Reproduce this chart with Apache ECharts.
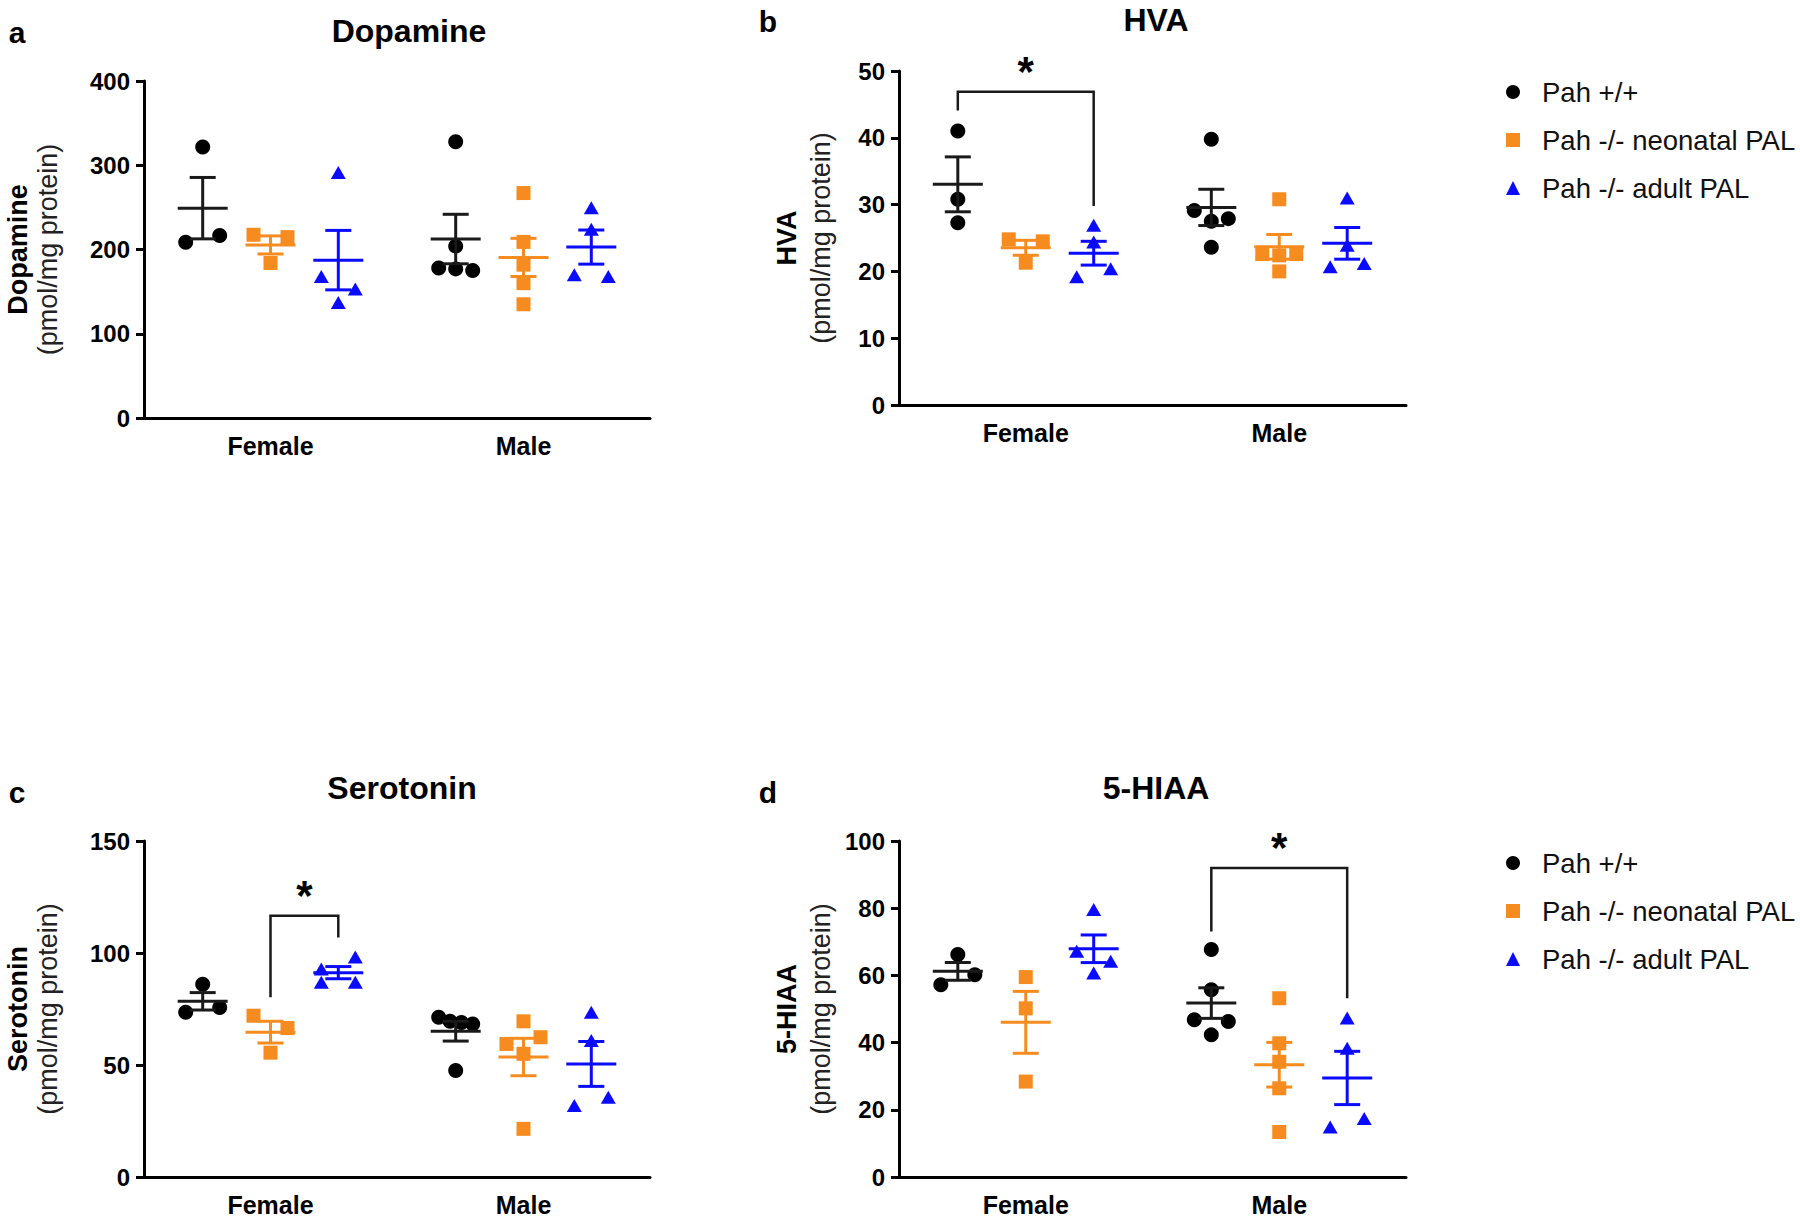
<!DOCTYPE html>
<html><head><meta charset="utf-8">
<script src="https://cdn.jsdelivr.net/npm/echarts@6/dist/echarts.min.js"></script>
<style>html,body{margin:0;padding:0;background:#fff}#c{width:1800px;height:1225px}</style>
</head><body><div id="c"></div>
<script>
// ---------------- DATA ----------------
const categories = ['Female', 'Male'];
const groupNames = ['Pah +/+', 'Pah -/- neonatal PAL', 'Pah -/- adult PAL'];

const dopamineFemaleWT    = [321.8, 208.7, 216.7];
const dopamineFemaleNeo   = [217.5, 214.7, 184.0];
const dopamineFemaleAdult = [291.5, 168.0, 153.0, 137.0];
const dopamineMaleWT      = [328, 204, 178, 177, 175];
const dopamineMaleNeo     = [267, 209, 182, 160, 135];
const dopamineMaleAdult   = [249.5, 224, 170, 168];

const hvaFemaleWT    = [41.0, 30.8, 27.3];
const hvaFemaleNeo   = [24.8, 24.5, 21.3];
const hvaFemaleAdult = [26.9, 24.4, 19.2, 20.4];
const hvaMaleWT      = [39.8, 29.1, 27.5, 27.9, 23.6];
const hvaMaleNeo     = [30.8, 22.6, 22.4, 22.6, 20.0];
const hvaMaleAdult   = [31.0, 23.9, 20.7, 21.2];

const serotoninFemaleWT    = [86.1, 73.5, 75.7];
const serotoninFemaleNeo   = [72.0, 66.5, 55.5];
const serotoninFemaleAdult = [92.9, 98.2, 86.9, 86.9];
const serotoninMaleWT      = [71.3, 69.5, 69.0, 68.3, 47.5];
const serotoninMaleNeo     = [69.5, 59.4, 62.4, 55.0, 21.5];
const serotoninMaleAdult   = [73.5, 60.9, 31.9, 35.6];

const hiaaFemaleWT    = [66.2, 57.2, 60.2];
const hiaaFemaleNeo   = [59.5, 50.2, 28.4];
const hiaaFemaleAdult = [79.6, 67.2, 64.2, 60.7];
const hiaaMaleWT      = [67.7, 55.7, 46.8, 46.3, 42.3];
const hiaaMaleNeo     = [53.2, 39.8, 34.3, 26.4, 13.4];
const hiaaMaleAdult   = [47.3, 38.3, 14.9, 17.4];

const dopamineTicks  = [0, 100, 200, 300, 400];
const hvaTicks       = [0, 10, 20, 30, 40, 50];
const serotoninTicks = [0, 50, 100, 150];
const hiaaTicks      = [0, 20, 40, 60, 80, 100];

// significance brackets: [category, fromGroup, toGroup, top, leftEnd, rightEnd] (data units)
const hvaBracket       = [0, 0, 2, 46.9, 44.1, 29.8];
const serotoninBracket = [0, 1, 2, 116.6, 80.2, 106.9];
const hiaaBracket      = [1, 0, 2, 92.0, 73.1, 53.2];

// ---------------- STYLE / LAYOUT ----------------
const FONT = 'Liberation Sans, Arial, Helvetica, sans-serif';
const colors = ['#000000', '#F68B1F', '#0A0AFF'];
const barColors = ['#1a1a1a', '#F68B1F', '#0A0AFF'];
const symbols = ['circle', 'rect', 'triangle'];
const symbolSizes = [15, 14, [15, 13]];
const GROUP_FRAC = 0.268;   // group dodge as fraction of category band
const SPREAD = 17;          // max horizontal spread of tied points (px)
const ROW_PX = 14.5;        // points closer than this (px) are spread side by side

const panels = [
  { letter: 'a', title: 'Dopamine', yName: 'Dopamine', ticks: dopamineTicks,
    data: [[dopamineFemaleWT, dopamineFemaleNeo, dopamineFemaleAdult], [dopamineMaleWT, dopamineMaleNeo, dopamineMaleAdult]],
    grid: { left: 144, top: 81, width: 506, height: 337 }, titleXY: [409, 31], letterXY: [17, 32], nameX: [18, 48], bracket: null },
  { letter: 'b', title: 'HVA', yName: 'HVA', ticks: hvaTicks,
    data: [[hvaFemaleWT, hvaFemaleNeo, hvaFemaleAdult], [hvaMaleWT, hvaMaleNeo, hvaMaleAdult]],
    grid: { left: 899, top: 71, width: 507, height: 334 }, titleXY: [1156, 20], letterXY: [768, 21], nameX: [787, 821], bracket: hvaBracket },
  { letter: 'c', title: 'Serotonin', yName: 'Serotonin', ticks: serotoninTicks,
    data: [[serotoninFemaleWT, serotoninFemaleNeo, serotoninFemaleAdult], [serotoninMaleWT, serotoninMaleNeo, serotoninMaleAdult]],
    grid: { left: 144, top: 841, width: 506, height: 336 }, titleXY: [402, 788], letterXY: [17, 792], nameX: [18, 48], bracket: serotoninBracket },
  { letter: 'd', title: '5-HIAA', yName: '5-HIAA', ticks: hiaaTicks,
    data: [[hiaaFemaleWT, hiaaFemaleNeo, hiaaFemaleAdult], [hiaaMaleWT, hiaaMaleNeo, hiaaMaleAdult]],
    grid: { left: 899, top: 841, width: 507, height: 336 }, titleXY: [1156, 788], letterXY: [768, 792], nameX: [787, 821], bracket: hiaaBracket }
];

function mean(a) { return a.reduce((s, v) => s + v, 0) / a.length; }
function sem(a) {
  const m = mean(a);
  const v = a.reduce((s, x) => s + (x - m) * (x - m), 0) / (a.length - 1);
  return Math.sqrt(v) / Math.sqrt(a.length);
}
function jitter(values, pxPerUnit) {
  const idx = values.map((v, i) => i).sort((a, b) => values[b] - values[a] || a - b);
  const rows = []; let cur = null;
  idx.forEach(i => {
    if (cur && (values[cur[0]] - values[i]) * pxPerUnit <= ROW_PX) cur.push(i);
    else { cur = [i]; rows.push(cur); }
  });
  const off = new Array(values.length).fill(0);
  rows.forEach(r => {
    r.sort((a, b) => a - b);
    const n = r.length;
    r.forEach((i, k) => { off[i] = n === 1 ? 0 : -SPREAD + 2 * SPREAD * k / (n - 1); });
  });
  return off;
}

const grids = [], xAxes = [], yAxes = [], series = [], graphics = [], titles = [];

panels.forEach((p, pi) => {
  const ticks = p.ticks;
  const yMax = ticks[ticks.length - 1];
  const interval = ticks[1] - ticks[0];
  const pxPerUnit = p.grid.height / yMax;
  const band = p.grid.width / categories.length;
  const gdx = band * GROUP_FRAC;

  grids.push(Object.assign({ containLabel: false }, p.grid));
  xAxes.push({
    type: 'category', gridIndex: pi, data: categories,
    axisLine: { lineStyle: { color: '#000', width: 3 } },
    axisTick: { alignWithLabel: true, length: 8, lineStyle: { color: '#000', width: 3 } },
    axisLabel: { color: '#000', fontFamily: FONT, fontWeight: 'bold', fontSize: 25, margin: 15 },
    splitLine: { show: false }
  });
  yAxes.push({
    type: 'value', gridIndex: pi, min: ticks[0], max: yMax, interval: interval,
    axisLine: { show: true, lineStyle: { color: '#000', width: 3 } },
    axisTick: { show: true, length: 8, lineStyle: { color: '#000', width: 3 } },
    axisLabel: { color: '#000', fontFamily: FONT, fontWeight: 'bold', fontSize: 24, margin: 14 },
    splitLine: { show: false }
  });

  // scatter points
  for (let g = 0; g < 3; g++) {
    const items = [];
    for (let c = 0; c < categories.length; c++) {
      const vals = p.data[c][g];
      const off = jitter(vals, pxPerUnit);
      vals.forEach((v, i) => {
        items.push({ value: [c, v], symbolOffset: [(g - 1) * gdx + off[i], 0] });
      });
    }
    series.push({
      name: groupNames[g], type: 'scatter', xAxisIndex: pi, yAxisIndex: pi,
      symbol: symbols[g], symbolSize: symbolSizes[g],
      itemStyle: { color: colors[g], opacity: 1 },
      data: items, z: 3, silent: true
    });
  }

  // mean +/- SEM
  const stats = [];
  for (let c = 0; c < categories.length; c++)
    for (let g = 0; g < 3; g++)
      stats.push([c, mean(p.data[c][g]), sem(p.data[c][g]), g]);
  series.push({
    name: 'Mean ± SEM', type: 'custom', xAxisIndex: pi, yAxisIndex: pi, z: 5, silent: true,
    data: stats,
    renderItem: function (params, api) {
      const c = api.value(0), m = api.value(1), s = api.value(2), g = api.value(3);
      const bw = api.size([1, 0])[0];
      const pt = api.coord([c, m]);
      const x = pt[0] + (g - 1) * bw * GROUP_FRAC;
      const yT = api.coord([c, m + s])[1];
      const yB = api.coord([c, m - s])[1];
      const st = { stroke: barColors[g], lineWidth: 3, fill: null };
      return { type: 'group', children: [
        { type: 'line', shape: { x1: x - 25, y1: pt[1], x2: x + 25, y2: pt[1] }, style: st },
        { type: 'line', shape: { x1: x, y1: yT, x2: x, y2: yB }, style: st },
        { type: 'line', shape: { x1: x - 13, y1: yT, x2: x + 13, y2: yT }, style: st },
        { type: 'line', shape: { x1: x - 13, y1: yB, x2: x + 13, y2: yB }, style: st }
      ]};
    }
  });

  // significance bracket
  if (p.bracket) {
    series.push({
      name: 'significance', type: 'custom', xAxisIndex: pi, yAxisIndex: pi, z: 6, silent: true,
      data: [p.bracket],
      renderItem: function (params, api) {
        const c = api.value(0), g1 = api.value(1), g2 = api.value(2);
        const bw = api.size([1, 0])[0];
        const cx = api.coord([c, 0])[0];
        const x1 = cx + (g1 - 1) * bw * GROUP_FRAC;
        const x2 = cx + (g2 - 1) * bw * GROUP_FRAC;
        const yTop = api.coord([c, api.value(3)])[1];
        const yL = api.coord([c, api.value(4)])[1];
        const yR = api.coord([c, api.value(5)])[1];
        return { type: 'group', children: [
          { type: 'polyline', shape: { points: [[x1, yL], [x1, yTop], [x2, yTop], [x2, yR]] },
            style: { stroke: '#1a1a1a', lineWidth: 2.5, fill: null } },
          { type: 'text', x: (x1 + x2) / 2, y: yTop - 20,
            style: { text: '*', font: 'bold 42px ' + FONT, fill: '#000', align: 'center', verticalAlign: 'middle',
                     textAlign: 'center', textVerticalAlign: 'middle' } }
        ]};
      }
    });
  }

  titles.push({ text: p.title, left: p.titleXY[0], top: p.titleXY[1] - 16, textAlign: 'center', padding: 0,
    textStyle: { fontFamily: FONT, fontWeight: 'bold', fontSize: 32, color: '#000' } });

  const yMid = p.grid.top + p.grid.height / 2;
  graphics.push({ type: 'text', x: p.letterXY[0], y: p.letterXY[1],
    style: { text: p.letter, font: 'bold 30px ' + FONT, fill: '#000', align: 'center', verticalAlign: 'middle', textAlign: 'center', textVerticalAlign: 'middle' } });
  graphics.push({ type: 'text', x: p.nameX[0], y: yMid, rotation: Math.PI / 2,
    style: { text: p.yName, font: 'bold 27px ' + FONT, fill: '#000', align: 'center', verticalAlign: 'middle', textAlign: 'center', textVerticalAlign: 'middle' } });
  graphics.push({ type: 'text', x: p.nameX[1], y: yMid, rotation: Math.PI / 2,
    style: { text: '(pmol/mg protein)', font: '27px ' + FONT, fill: '#222', align: 'center', verticalAlign: 'middle', textAlign: 'center', textVerticalAlign: 'middle' } });
});

const legendData = groupNames.map((n, i) => ({ name: n, icon: symbols[i] }));
function legendAt(top) {
  return {
    orient: 'vertical', left: 1501, top: top, itemWidth: 14, itemHeight: 14, itemGap: 20,
    data: legendData, selectedMode: false,
    textStyle: { fontFamily: FONT, fontSize: 27.5, color: '#111', padding: [0, 0, 0, 17] }
  };
}

const chart = echarts.init(document.getElementById('c'), null, { renderer: 'svg', width: 1800, height: 1225 });
chart.setOption({
  backgroundColor: '#fff',
  animation: false,
  title: titles,
  legend: [legendAt(73), legendAt(844)],
  grid: grids,
  xAxis: xAxes,
  yAxis: yAxes,
  series: series,
  graphic: graphics
});
</script>
</body></html>
